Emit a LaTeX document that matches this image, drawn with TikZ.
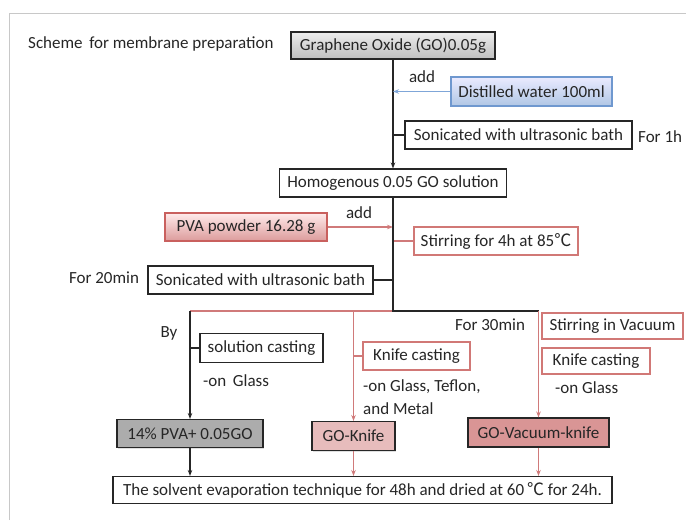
\documentclass[tikz,border=0pt]{standalone}
\usepackage{fontspec}
\setmainfont{Carlito}
\newfontfamily\cjkf{Noto Sans CJK SC}
\usetikzlibrary{arrows.meta,shadows}
\definecolor{framec}{HTML}{C8C8C8}
\definecolor{txt}{HTML}{262626}
\definecolor{redl}{HTML}{D07A7A}
\definecolor{redb}{HTML}{C9605E}
\definecolor{bluel}{HTML}{7FA6D8}
\definecolor{blueb}{HTML}{6F98CF}
\newcommand{\degc}{{\cjkf ℃}}
\tikzset{
  x=1pt, y=1pt,
  every node/.style={font=\fontsize{17}{19}\selectfont, text=txt, inner sep=0pt},
  box/.style={draw=black!85, line width=1.1pt, fill=white, minimum height=28pt, anchor=center},
  redbox/.style={box, draw=redb!85},
  shad/.style={drop shadow={opacity=0.25, shadow xshift=1.2pt, shadow yshift=-1.2pt}},
  lbl/.style={},
  blk/.style={draw=black!85, line width=1.1pt},
  rln/.style={draw=redl, line width=1.1pt},
  arr/.style={-{Stealth[length=6pt,width=4.5pt]}},
}
\begin{document}
\begin{tikzpicture}
\useasboundingbox (0,0) rectangle (686,-520);
\draw[framec, line width=0.8pt] (9,-520) -- (9,-13) -- (686,-13);

% texts
\node[lbl, anchor=west] (scheme) at (28,-44) {Scheme\, for membrane preparation};
\node[lbl] (add1) at (422,-77) {add};
\node[lbl, anchor=west] (for1h) at (638,-137) {For 1h};
\node[lbl] (add2) at (359,-213) {add};
\node[lbl] (for20) at (104,-278) {For 20min};
\node[lbl] (by) at (169,-333) {By};
\node[lbl, anchor=west] (ong1) at (203,-381) {-on\, Glass};
\node[lbl, anchor=west] (ong2) at (363,-387) {-on Glass, Teflon,};
\node[lbl, anchor=west] (metal) at (363,-409) {and Metal};
\node[lbl] (for30) at (490,-325) {For 30min};
\node[lbl, anchor=west] (ong3) at (555,-388) {-on Glass};

% boxes
\node[box, shad, minimum width=204pt, minimum height=27pt, top color=gray!15, bottom color=gray!50] (go) at (393,-45.5) {Graphene Oxide (GO)0.05g};
\node[box, shad, draw=blueb, minimum width=161pt, minimum height=29pt, top color=blue!8!white, bottom color=blueb!55!white] (water) at (531.5,-91.5) {Distilled water 100ml};
\node[box, minimum width=227pt] (son1) at (518.5,-135) {Sonicated with ultrasonic bath};
\node[box, minimum width=227pt] (homo) at (393,-183) {Homogenous 0.05 GO solution};
\node[box, shad, draw=redb, minimum width=162pt, top color=red!8!white, bottom color=redl!75!white] (pva) at (246,-227) {PVA powder 16.28 g};
\node[redbox, minimum width=164pt] (stir) at (496,-241) {Stirring for 4h at 85\degc};
\node[box, minimum width=225pt] (son2) at (260.5,-280) {Sonicated with ultrasonic bath};
\node[box, minimum width=123pt, minimum height=29pt] (sol) at (261.5,-348) {solution casting};
\node[redbox, minimum width=107pt] (knife1) at (416.5,-356) {Knife casting};
\node[redbox, minimum width=141pt, minimum height=26pt] (vac) at (612.5,-326) {Stirring in Vacuum};
\node[redbox, minimum width=108pt, minimum height=26pt] (knife2) at (596,-361) {Knife casting};
\node[box, shad, minimum width=146pt, fill=gray!65] (pva14) at (190,-433.5) {14\% PVA+ 0.05GO};
\node[box, shad, minimum width=83pt, minimum height=29pt, fill=redl!50!white] (goknife) at (353.5,-436) {GO-Knife};
\node[box, shad, minimum width=141pt, minimum height=29pt, fill=redl!80!white] (govac) at (538.5,-432.5) {GO-Vacuum-knife};
\node[box, minimum width=499pt, minimum height=27pt] (final) at (362.5,-490) {The solvent evaporation technique for 48h and dried at 60\,\degc\ for 24h.};

\coordinate (split) at (393,-311);

% main flow
\draw[blk, arr] (go.south) -- (homo.north);
\draw[draw=bluel, line width=1.1pt, arr] (water.west) -- (water.west -| go.south);
\draw[blk] (son1.west) -- (son1.west -| go.south);
\draw[rln, arr] (pva.east) -- (pva.east -| homo.south);
\draw[rln] (stir.west) -- (stir.west -| homo.south);
\draw[blk] (son2.east) -- (son2.east -| homo.south);

% split
\draw[rln] (pva14.north |- split) -- (split);
\draw[blk] (homo.south) -- (split) -- (govac.north |- split);
\draw[blk, arr] (pva14.north |- split) -- (pva14.north);
\draw[rln, arr] (goknife.north |- split) -- (goknife.north);
\draw[rln, arr] (govac.north |- split) -- (govac.north);
\draw[blk] (sol.west) -- (sol.west -| pva14.north);
\draw[rln] (knife1.west) -- (knife1.west -| goknife.north);

% to final
\draw[blk, arr] (pva14.south) -- (pva14.south |- final.north);
\draw[rln, arr] (goknife.south) -- (goknife.south |- final.north);
\draw[rln, arr] (govac.south) -- (govac.south |- final.north);
\end{tikzpicture}
\end{document}
